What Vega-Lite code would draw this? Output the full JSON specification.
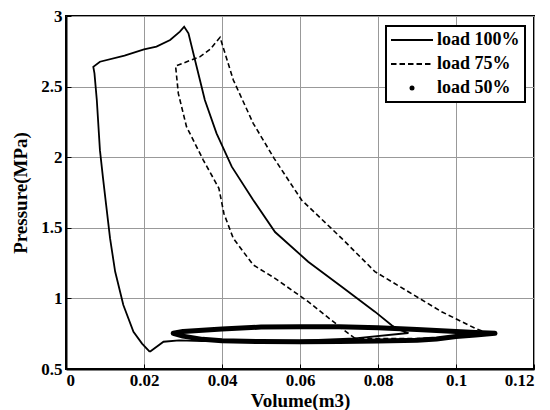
{
  "$schema": "https://vega.github.io/schema/vega-lite/v6.json",
  "autosize": {"type": "none"},
  "padding": {"left": 66, "top": 16, "right": 16, "bottom": 41},
  "width": 468,
  "height": 353,
  "background": "white",
  "config": {
    "view": {"stroke": "black", "strokeWidth": 2},
    "font": "Liberation Serif",
    "axis": {
      "labelFont": "Liberation Serif", "labelFontWeight": "bold", "labelFontSize": 17, "labelColor": "black",
      "titleFont": "Liberation Serif", "titleFontWeight": "bold", "titleFontSize": 19, "titleColor": "black",
      "grid": true, "gridColor": "#999999", "gridWidth": 1,
      "domainColor": "black", "domainWidth": 2,
      "tickColor": "black", "tickSize": -5, "tickWidth": 1
    }
  },
  "data": {"values": [
    {"s": "load 100%", "i": 1, "v": 0.0215, "p": 0.622},
    {"s": "load 100%", "i": 2, "v": 0.0195, "p": 0.68},
    {"s": "load 100%", "i": 3, "v": 0.0173, "p": 0.764},
    {"s": "load 100%", "i": 4, "v": 0.0147, "p": 0.953},
    {"s": "load 100%", "i": 5, "v": 0.0126, "p": 1.19},
    {"s": "load 100%", "i": 6, "v": 0.0113, "p": 1.425},
    {"s": "load 100%", "i": 7, "v": 0.0103, "p": 1.66},
    {"s": "load 100%", "i": 8, "v": 0.0095, "p": 1.85},
    {"s": "load 100%", "i": 9, "v": 0.0087, "p": 2.05},
    {"s": "load 100%", "i": 10, "v": 0.0079, "p": 2.405},
    {"s": "load 100%", "i": 11, "v": 0.0073, "p": 2.594},
    {"s": "load 100%", "i": 12, "v": 0.0070, "p": 2.64},
    {"s": "load 100%", "i": 13, "v": 0.0087, "p": 2.676},
    {"s": "load 100%", "i": 14, "v": 0.015, "p": 2.72},
    {"s": "load 100%", "i": 15, "v": 0.02, "p": 2.764},
    {"s": "load 100%", "i": 16, "v": 0.0232, "p": 2.783},
    {"s": "load 100%", "i": 17, "v": 0.0267, "p": 2.83},
    {"s": "load 100%", "i": 18, "v": 0.0292, "p": 2.889},
    {"s": "load 100%", "i": 19, "v": 0.0303, "p": 2.924},
    {"s": "load 100%", "i": 20, "v": 0.0314, "p": 2.877},
    {"s": "load 100%", "i": 21, "v": 0.0335, "p": 2.641},
    {"s": "load 100%", "i": 22, "v": 0.0356, "p": 2.405},
    {"s": "load 100%", "i": 23, "v": 0.0386, "p": 2.169},
    {"s": "load 100%", "i": 24, "v": 0.0425, "p": 1.933},
    {"s": "load 100%", "i": 25, "v": 0.048, "p": 1.697},
    {"s": "load 100%", "i": 26, "v": 0.0536, "p": 1.47},
    {"s": "load 100%", "i": 27, "v": 0.0621, "p": 1.26},
    {"s": "load 100%", "i": 28, "v": 0.0707, "p": 1.083},
    {"s": "load 100%", "i": 29, "v": 0.0792, "p": 0.906},
    {"s": "load 100%", "i": 30, "v": 0.0835, "p": 0.81},
    {"s": "load 100%", "i": 31, "v": 0.0852, "p": 0.78},
    {"s": "load 100%", "i": 32, "v": 0.0878, "p": 0.755},
    {"s": "load 100%", "i": 33, "v": 0.0741, "p": 0.717},
    {"s": "load 100%", "i": 34, "v": 0.06, "p": 0.70},
    {"s": "load 100%", "i": 35, "v": 0.045, "p": 0.698},
    {"s": "load 100%", "i": 36, "v": 0.035, "p": 0.698},
    {"s": "load 100%", "i": 37, "v": 0.029, "p": 0.703},
    {"s": "load 100%", "i": 38, "v": 0.025, "p": 0.693},
    {"s": "load 100%", "i": 39, "v": 0.0215, "p": 0.622},

    {"s": "load 75%", "i": 1, "v": 0.0741, "p": 0.717},
    {"s": "load 75%", "i": 2, "v": 0.0707, "p": 0.788},
    {"s": "load 75%", "i": 3, "v": 0.0621, "p": 0.977},
    {"s": "load 75%", "i": 4, "v": 0.0536, "p": 1.142},
    {"s": "load 75%", "i": 5, "v": 0.048, "p": 1.237},
    {"s": "load 75%", "i": 6, "v": 0.0429, "p": 1.425},
    {"s": "load 75%", "i": 7, "v": 0.0405, "p": 1.6},
    {"s": "load 75%", "i": 8, "v": 0.0392, "p": 1.78},
    {"s": "load 75%", "i": 9, "v": 0.0352, "p": 1.98},
    {"s": "load 75%", "i": 10, "v": 0.0309, "p": 2.216},
    {"s": "load 75%", "i": 11, "v": 0.0288, "p": 2.452},
    {"s": "load 75%", "i": 12, "v": 0.0281, "p": 2.646},
    {"s": "load 75%", "i": 13, "v": 0.0344, "p": 2.712},
    {"s": "load 75%", "i": 14, "v": 0.037, "p": 2.765},
    {"s": "load 75%", "i": 15, "v": 0.0395, "p": 2.849},
    {"s": "load 75%", "i": 16, "v": 0.0429, "p": 2.547},
    {"s": "load 75%", "i": 17, "v": 0.048, "p": 2.24},
    {"s": "load 75%", "i": 18, "v": 0.0534, "p": 1.99},
    {"s": "load 75%", "i": 19, "v": 0.0604, "p": 1.697},
    {"s": "load 75%", "i": 20, "v": 0.0707, "p": 1.425},
    {"s": "load 75%", "i": 21, "v": 0.0792, "p": 1.19},
    {"s": "load 75%", "i": 22, "v": 0.0878, "p": 1.047},
    {"s": "load 75%", "i": 23, "v": 0.0963, "p": 0.906},
    {"s": "load 75%", "i": 24, "v": 0.1049, "p": 0.788},
    {"s": "load 75%", "i": 25, "v": 0.1083, "p": 0.753},
    {"s": "load 75%", "i": 26, "v": 0.1, "p": 0.728},
    {"s": "load 75%", "i": 27, "v": 0.09, "p": 0.715},
    {"s": "load 75%", "i": 28, "v": 0.0741, "p": 0.717},

    {"s": "load 50%", "i": 1, "v": 0.0275, "p": 0.753},
    {"s": "load 50%", "i": 2, "v": 0.03, "p": 0.765},
    {"s": "load 50%", "i": 3, "v": 0.035, "p": 0.775},
    {"s": "load 50%", "i": 4, "v": 0.04, "p": 0.783},
    {"s": "load 50%", "i": 5, "v": 0.05, "p": 0.797},
    {"s": "load 50%", "i": 6, "v": 0.06, "p": 0.80},
    {"s": "load 50%", "i": 7, "v": 0.07, "p": 0.80},
    {"s": "load 50%", "i": 8, "v": 0.08, "p": 0.792},
    {"s": "load 50%", "i": 9, "v": 0.09, "p": 0.78},
    {"s": "load 50%", "i": 10, "v": 0.1, "p": 0.766},
    {"s": "load 50%", "i": 11, "v": 0.105, "p": 0.759},
    {"s": "load 50%", "i": 12, "v": 0.110, "p": 0.753},
    {"s": "load 50%", "i": 13, "v": 0.105, "p": 0.741},
    {"s": "load 50%", "i": 14, "v": 0.1, "p": 0.73},
    {"s": "load 50%", "i": 15, "v": 0.095, "p": 0.713},
    {"s": "load 50%", "i": 16, "v": 0.09, "p": 0.703},
    {"s": "load 50%", "i": 17, "v": 0.08, "p": 0.698},
    {"s": "load 50%", "i": 18, "v": 0.07, "p": 0.694},
    {"s": "load 50%", "i": 19, "v": 0.06, "p": 0.693},
    {"s": "load 50%", "i": 20, "v": 0.05, "p": 0.694},
    {"s": "load 50%", "i": 21, "v": 0.04, "p": 0.70},
    {"s": "load 50%", "i": 22, "v": 0.035, "p": 0.71},
    {"s": "load 50%", "i": 23, "v": 0.03, "p": 0.733},
    {"s": "load 50%", "i": 24, "v": 0.0275, "p": 0.753}
  ]},
  "encoding": {
    "x": {"field": "v", "type": "quantitative",
      "scale": {"domain": [0, 0.12], "nice": false, "zero": false},
      "axis": {"title": "Volume(m3)", "values": [0, 0.02, 0.04, 0.06, 0.08, 0.1, 0.12], "format": ".2~f", "labelPadding": 8, "titlePadding": 3}},
    "y": {"field": "p", "type": "quantitative",
      "scale": {"domain": [0.5, 3], "nice": false, "zero": false},
      "axis": {"title": "Pressure(MPa)", "values": [0.5, 1, 1.5, 2, 2.5, 3], "format": ".1~f", "labelPadding": 9, "titlePadding": 10}},
    "order": {"field": "i", "type": "quantitative"},
    "color": {"field": "s", "type": "nominal",
      "scale": {"domain": ["load 100%", "load 75%", "load 50%"], "range": ["black", "black", "black"]},
      "legend": {
        "title": null, "orient": "none", "legendX": 320, "legendY": 10,
        "direction": "vertical",
        "fillColor": "white", "strokeColor": "black", "padding": 5,
        "labelFont": "Liberation Serif", "labelFontWeight": "bold", "labelFontSize": 18, "labelColor": "black",
        "symbolType": "stroke", "symbolSize": 1764, "symbolStrokeWidth": 2,
        "symbolOffset": 12, "labelOffset": 16, "rowPadding": 6,
        "encode": {
          "legend": {"update": {"strokeWidth": {"value": 2}, "stroke": {"value": "black"}, "fill": {"value": "white"}}},
          "symbols": {"update": {
            "shape": {"signal": "datum.value === 'load 50%' ? 'circle' : 'stroke'"},
            "size": {"signal": "datum.value === 'load 50%' ? 25 : 1764"},
            "fill": {"signal": "datum.value === 'load 50%' ? 'black' : 'transparent'"},
            "stroke": {"value": "black"},
            "strokeWidth": {"signal": "datum.value === 'load 50%' ? 0 : 2"},
            "strokeDash": {"signal": "datum.value === 'load 75%' ? [5.5, 3] : [1, 0]"}
          }}
        }
      }}
  },
  "layer": [
    {"transform": [{"filter": "datum.s === 'load 50%'"}],
     "mark": {"type": "line", "strokeWidth": 5, "strokeCap": "round", "strokeJoin": "round"}},
    {"transform": [{"filter": "datum.s === 'load 100%'"}],
     "mark": {"type": "line", "strokeWidth": 1.8}},
    {"transform": [{"filter": "datum.s === 'load 75%'"}],
     "mark": {"type": "line", "strokeWidth": 1.6, "strokeDash": [5, 3]}}
  ]
}
